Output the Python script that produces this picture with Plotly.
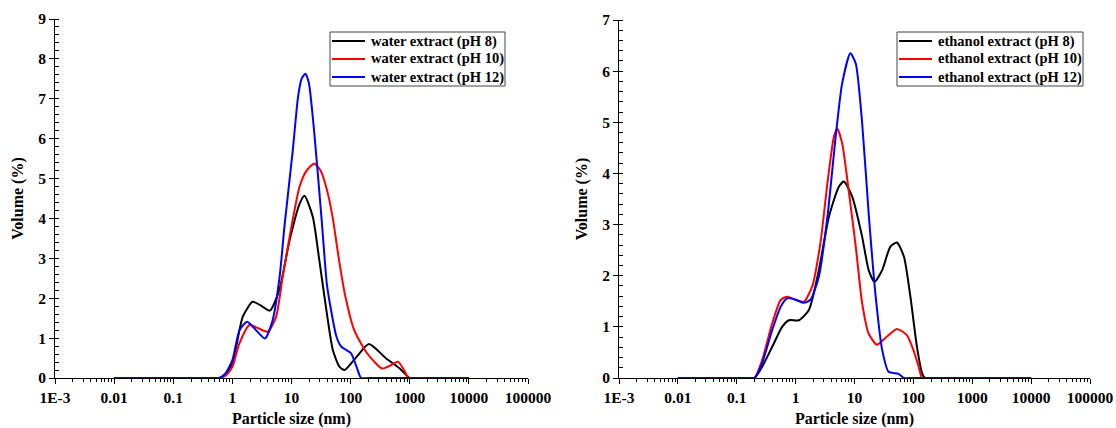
import plotly.graph_objects as go

# ---------------- data ----------------
# Water extracts (left panel)
w8_x = [0.01, 0.03, 0.1, 0.3, 0.5, 0.6, 0.75, 1.0, 1.5, 2.2, 3.0, 4.3, 6.2, 9.3, 13.8, 16.6, 22.9, 29.5, 38.9, 50, 65, 79, 126, 204, 400, 676, 1000, 1300, 3000, 10000]
w8_y = [0, 0, 0, 0, 0, 0, 0.08, 0.37, 1.54, 1.91, 1.82, 1.69, 2.2, 3.46, 4.38, 4.57, 4.04, 2.96, 1.7, 0.7, 0.28, 0.2, 0.53, 0.85, 0.49, 0.24, 0, 0, 0, 0]

w10_x = [0.01, 0.03, 0.1, 0.3, 0.5, 0.62, 0.78, 1.0, 1.3, 1.95, 2.8, 4.0, 5.5, 7.1, 10, 13.7, 18, 24.3, 31, 40, 50, 63, 80, 115, 190, 340, 480, 630, 800, 950, 1300, 3000, 10000]
w10_y = [0, 0, 0, 0, 0, 0, 0.07, 0.28, 0.85, 1.33, 1.24, 1.16, 1.54, 2.54, 3.8, 4.8, 5.2, 5.38, 5.2, 4.7, 4.0, 3.0, 2.1, 1.2, 0.62, 0.24, 0.32, 0.41, 0.2, 0, 0, 0, 0]

w12_x = [0.01, 0.03, 0.1, 0.3, 0.5, 0.6, 0.75, 1.0, 1.32, 1.78, 2.5, 3.55, 4.8, 6.3, 7.6, 10.5, 12.9, 14.8, 17.2, 19.7, 24.3, 32, 39.5, 43.6, 57.5, 69, 85, 102, 126, 150, 200, 500, 2000, 10000]
w12_y = [0, 0, 0, 0, 0, 0, 0.1, 0.45, 1.2, 1.41, 1.2, 0.99, 1.45, 2.54, 3.8, 5.7, 7.05, 7.5, 7.63, 7.39, 6.14, 4.05, 2.37, 1.95, 1.04, 0.79, 0.7, 0.62, 0.28, 0, 0, 0, 0, 0]

# Ethanol extracts (right panel)
e8_x = [0.01, 0.03, 0.08, 0.15, 0.2, 0.27, 0.40, 0.59, 0.77, 1.14, 1.68, 2.48, 3.67, 5.42, 6.6, 9.1, 13.5, 17.4, 21.9, 29.5, 40.7, 52.5, 69.2, 89, 115, 141, 158, 220, 600, 2000, 10000]
e8_y = [0, 0, 0, 0, 0, 0.22, 0.61, 1.0, 1.13, 1.13, 1.33, 2.11, 3.15, 3.74, 3.84, 3.55, 2.76, 2.11, 1.88, 2.11, 2.57, 2.65, 2.37, 1.59, 0.61, 0.09, 0, 0, 0, 0, 0]

e10_x = [0.01, 0.03, 0.08, 0.15, 0.2, 0.27, 0.40, 0.56, 0.72, 1.0, 1.38, 1.91, 2.63, 3.47, 4.47, 5.08, 6.17, 7.94, 10.5, 13.5, 17.4, 24, 35.5, 52.5, 77.6, 100, 123, 141, 200, 600, 2000, 10000]
e10_y = [0, 0, 0, 0, 0, 0.35, 1.07, 1.53, 1.59, 1.53, 1.49, 1.79, 2.63, 3.81, 4.72, 4.88, 4.59, 3.68, 2.57, 1.46, 0.87, 0.65, 0.81, 0.96, 0.84, 0.55, 0.22, 0, 0, 0, 0, 0]

e12_x = [0.01, 0.03, 0.08, 0.15, 0.2, 0.27, 0.40, 0.56, 0.72, 1.0, 1.38, 1.79, 2.48, 3.47, 4.79, 6.17, 8.5, 10.5, 13.5, 17.4, 22.9, 29.5, 38, 56, 69, 100, 400, 2000, 10000]
e12_y = [0, 0, 0, 0, 0, 0.29, 0.94, 1.4, 1.56, 1.53, 1.47, 1.53, 1.98, 3.15, 4.72, 5.76, 6.35, 6.15, 4.98, 3.22, 1.59, 0.55, 0.12, 0.08, 0, 0, 0, 0, 0]

tick_vals = [0.001, 0.01, 0.1, 1, 10, 100, 1000, 10000, 100000]
tick_text = ["1E-3", "0.01", "0.1", "1", "10", "100", "1000", "10000", "100000"]

left_names = ["water extract (pH 8)", "water extract (pH 10)", "water extract (pH 12)"]
right_names = ["ethanol extract (pH 8)", "ethanol extract (pH 10)", "ethanol extract (pH 12)"]
colors = ["#000000", "#ff0000", "#0000ff"]

# ---------------- figure ----------------
W, H = 1116, 428
FONT = "Liberation Serif, Times New Roman, serif"
fig = go.Figure()

left_series = [(w8_x, w8_y), (w10_x, w10_y), (w12_x, w12_y)]
right_series = [(e8_x, e8_y), (e10_x, e10_y), (e12_x, e12_y)]

for (xs, ys), name, c in zip(left_series, left_names, colors):
    fig.add_trace(go.Scatter(x=xs, y=ys, name=name, mode="lines",
                             line=dict(color=c, width=2, shape="spline", smoothing=0.6),
                             xaxis="x", yaxis="y", showlegend=False))
for (xs, ys), name, c in zip(right_series, right_names, colors):
    fig.add_trace(go.Scatter(x=xs, y=ys, name=name, mode="lines",
                             line=dict(color=c, width=2, shape="spline", smoothing=0.6),
                             xaxis="x2", yaxis="y2", showlegend=False))

minor_x = [m * 10 ** e for e in range(-3, 5) for m in range(2, 10)]

title_font = dict(family=FONT, size=16, color="black", weight="bold")
tick_font = dict(family=FONT, size=15.5, color="black", weight="bold")

def xaxis_cfg(domain, anchor):
    return dict(type="log", range=[-3, 5], domain=domain, anchor=anchor,
                tickmode="array", tickvals=tick_vals,
                ticktext=["<b>" + t + "</b>" for t in tick_text],
                ticks="outside", ticklen=5, tickwidth=1, tickcolor="black",
                minor=dict(tickmode="array", tickvals=minor_x, ticks="outside",
                           ticklen=3, tickwidth=1, tickcolor="black", showgrid=False),
                showline=True, linecolor="black", linewidth=1, layer="below traces",
                showgrid=False, zeroline=False, automargin=False,
                ticklabeloverflow="allow",
                tickfont=tick_font,
                title=dict(text="<b>Particle size (nm)</b>", font=title_font, standoff=9))

def yaxis_cfg(domain, anchor, top):
    return dict(range=[0, top], domain=domain, anchor=anchor,
                tickmode="linear", tick0=0, dtick=1,
                ticks="outside", ticklen=5, tickwidth=1, tickcolor="black",
                minor=dict(dtick=0.2, ticks="inside", ticklen=4, tickwidth=1,
                           tickcolor="black", showgrid=False),
                showline=True, linecolor="black", linewidth=1, layer="below traces",
                showgrid=False, zeroline=False, automargin=False,
                tickfont=tick_font, tickprefix="<b>", ticksuffix="</b>",
                title=dict(text="<b>Volume (%)</b>", font=title_font, standoff=10))

xd1 = [55 / W, 528 / W]
xd2 = [619 / W, 1090 / W]
yd1 = [(H - 378) / H, (H - 19) / H]
yd2 = [(H - 378) / H, (H - 20) / H]

# ---- legends drawn as boxed entries (pixel layout converted to paper) ----
def px_x(v):
    return v / W

def px_y(v):
    return (H - v) / H

shapes = []
annotations = []
legend_font = dict(family=FONT, size=14.5, color="black", weight="bold")
for (bx0, bx1, names) in [(330, 505, left_names), (897, 1083, right_names)]:
    shapes.append(dict(type="rect", xref="paper", yref="paper",
                       x0=px_x(bx0), x1=px_x(bx1), y0=px_y(86), y1=px_y(32),
                       line=dict(color="#444", width=1), fillcolor="white", layer="above"))
    for i, (name, c) in enumerate(zip(names, colors)):
        yc = 41 + 18 * i
        shapes.append(dict(type="line", xref="paper", yref="paper",
                           x0=px_x(bx0 + 2), x1=px_x(bx0 + 35), y0=px_y(yc), y1=px_y(yc),
                           line=dict(color=c, width=2), layer="above"))
        annotations.append(dict(text="<b>" + name + "</b>", xref="paper", yref="paper",
                                x=px_x(bx0 + 39), y=px_y(yc), xanchor="left", yanchor="middle",
                                showarrow=False, font=legend_font))

fig.update_layout(
    width=W, height=H,
    margin=dict(l=0, r=0, t=0, b=0),
    paper_bgcolor="white", plot_bgcolor="white",
    template="none",
    font=dict(family=FONT, color="black"),
    showlegend=False,
    xaxis=xaxis_cfg(xd1, "y"),
    yaxis=yaxis_cfg(yd1, "x", 9),
    xaxis2=xaxis_cfg(xd2, "y2"),
    yaxis2=yaxis_cfg(yd2, "x2", 7),
    # overlay axes to give major ticks that cross the axis line
    xaxis3=dict(type="log", range=[-3, 5], overlaying="x", anchor="y",
                tickmode="array", tickvals=tick_vals, ticks="inside", ticklen=4,
                tickcolor="black", showticklabels=False, showline=False, showgrid=False,
                zeroline=False, automargin=False),
    xaxis4=dict(type="log", range=[-3, 5], overlaying="x2", anchor="y2",
                tickmode="array", tickvals=tick_vals, ticks="inside", ticklen=4,
                tickcolor="black", showticklabels=False, showline=False, showgrid=False,
                zeroline=False, automargin=False),
    yaxis3=dict(range=[0, 9], overlaying="y", anchor="x", tickmode="linear", dtick=1,
                ticks="inside", ticklen=7, tickcolor="black", showticklabels=False,
                showline=False, showgrid=False, zeroline=False, automargin=False),
    yaxis4=dict(range=[0, 7], overlaying="y2", anchor="x2", tickmode="linear", dtick=1,
                ticks="inside", ticklen=7, tickcolor="black", showticklabels=False,
                showline=False, showgrid=False, zeroline=False, automargin=False),
    shapes=shapes,
    annotations=annotations,
)

fig.write_html("out.html")
